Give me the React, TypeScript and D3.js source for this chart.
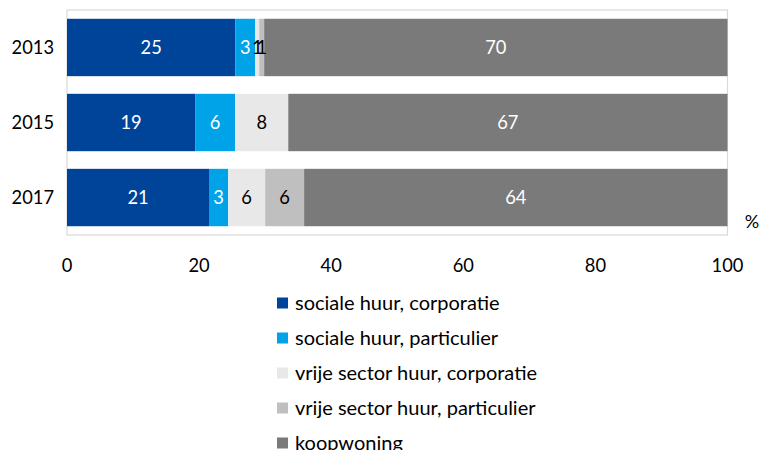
import React from "react";
import * as d3 from "d3";

const years = ["2013", "2015", "2017"];
const seriesNames = [
  "sociale huur, corporatie",
  "sociale huur, particulier",
  "vrije sector huur, corporatie",
  "vrije sector huur, particulier",
  "koopwoning",
];
// values per series, per year (2013, 2015, 2017)
const socCorp = [25.5, 19.4, 21.5];
const socPart = [3.0, 6.05, 2.9];
const vrijCorp = [0.6, 8.05, 5.6];
const vrijPart = [0.75, 0, 5.9];
const koop = [70.15, 66.5, 64.1];
// labels shown in the bars
const socCorpLbl = ["25", "19", "21"];
const socPartLbl = ["3", "6", "3"];
const vrijCorpLbl = ["1", "8", "6"];
const vrijPartLbl = ["1", "", "6"];
const koopLbl = ["70", "67", "64"];
const xTicks = [0, 20, 40, 60, 80, 100];

const colors = ["#00449a", "#00a2e8", "#e8e8e8", "#bfbfbf", "#7a7a7a"];
const textColors = ["#ffffff", "#ffffff", "#000000", "#000000", "#ffffff"];

export default function App() {
  const W = 762, H = 450;
  const left = 67, right = 727.5, top = 10, bottom = 235;
  const x = d3.scaleLinear().domain([0, 100]).range([left, right]);
  const y = d3.scaleBand().domain(years).range([top, bottom]).paddingInner(0.235).paddingOuter(0.117);
  const all = [socCorp, socPart, vrijCorp, vrijPart, koop];
  const lbls = [socCorpLbl, socPartLbl, vrijCorpLbl, vrijPartLbl, koopLbl];
  const font = "Lato, 'Open Sans', sans-serif";
  const numSize = 18.3;

  const rows = years.map((yr, i) => {
    let acc = 0;
    return all.map((s, k) => {
      const x0 = acc;
      acc += s[i];
      return { yr, k, x0, x1: acc, label: lbls[k][i] };
    });
  });

  return (
    <svg width={W} height={H} style={{ position: "absolute", left: 0, top: 0 }} fontFamily={font}>
      <rect x={0} y={0} width={W} height={H} fill="#fff" />
      <rect x={left} y={top} width={right - left} height={bottom - top} fill="none" stroke="#d9d9d9" strokeWidth={1.2} />
      {rows.map((segs) =>
        segs.map((d) =>
          d.x1 - d.x0 > 0 ? (
            <rect
              key={d.yr + d.k}
              x={x(d.x0)}
              y={y(d.yr)}
              width={x(d.x1) - x(d.x0)}
              height={y.bandwidth()}
              fill={colors[d.k]}
            />
          ) : null
        )
      )}
      {rows.map((segs) =>
        segs.map((d) =>
          d.label ? (
            <text
              key={"t" + d.yr + d.k}
              x={(x(d.x0) + x(d.x1)) / 2}
              y={(y(d.yr) as number) + y.bandwidth() / 2}
              dy="0.36em"
              textAnchor="middle"
              fontSize={numSize}
              fill={textColors[d.k]}
            >
              {d.label}
            </text>
          ) : null
        )
      )}
      {years.map((yr) => (
        <text key={yr} x={54} y={(y(yr) as number) + y.bandwidth() / 2} dy="0.36em" textAnchor="end" fontSize={numSize} fill="#000">
          {yr}
        </text>
      ))}
      {xTicks.map((t) => (
        <text key={t} x={x(t)} y={265} dy="0.36em" textAnchor="middle" fontSize={numSize} fill="#000">
          {t}
        </text>
      ))}
      <text x={752} y={222} dy="0.36em" textAnchor="middle" fontSize={18} fill="#000">%</text>
      {seriesNames.map((n, k) => (
        <g key={n} transform={`translate(277, ${303 + k * 35})`}>
          <rect x={0} y={-5.5} width={11} height={11} fill={colors[k]} />
          <text x={18} y={0} dy="0.36em" fontSize={20} fill="#000">{n}</text>
        </g>
      ))}
    </svg>
  );
}
